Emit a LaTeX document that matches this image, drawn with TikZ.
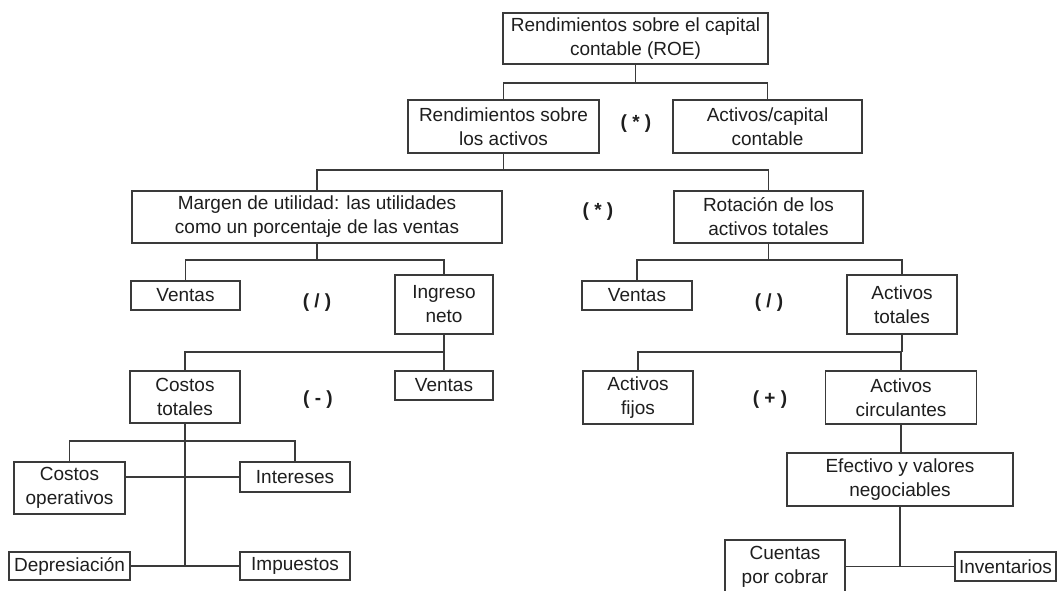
\documentclass[tikz,border=0pt]{standalone}
\usepackage{fontspec}
\setmainfont{Liberation Sans}
\definecolor{linec}{HTML}{3A3A3A}
\definecolor{textc}{HTML}{1E1E1E}
\begin{document}
\begin{tikzpicture}[x=1pt,y=-1pt,
  box/.style={draw=linec, line width=1.2pt, inner sep=0pt, align=center, text=textc,
    font=\fontsize{19}{24}\selectfont},
  op/.style={inner sep=0pt, text=textc, font=\fontsize{19}{24}\selectfont\bfseries},
  conn/.style={draw=linec, line width=1.2pt}]
\useasboundingbox (0,0) rectangle (1057,591);
\fill[white] (0,0) rectangle (1057,591);
% level 0
\node[box, minimum width=265pt, minimum height=51pt] (ROE) at (635.5,38.5) {Rendimientos sobre el capital\\contable (ROE)};
% level 1
\node[box, minimum width=191pt, minimum height=53pt] (RSA) at (503.5,126.5) {Rendimientos sobre\\los activos};
\node[box, minimum width=189pt, minimum height=53pt] (AC) at (767.5,126.5) {Activos/capital\\contable};
\node[op] (op1) at (636,124) {( * )};
% level 2
\node[box, minimum width=370pt, minimum height=52pt] (MU) at (317,217) {Margen de utilidad: las utilidades\\como un porcentaje de las ventas};
\node[box, minimum width=189pt, minimum height=52pt] (RAT) at (768.5,217) {Rotación de los\\activos totales};
\node[op] (op2) at (598,212) {( * )};
% level 3
\node[box, minimum width=109pt, minimum height=29pt] (V1) at (185.5,295.5) {Ventas};
\node[box, minimum width=98pt, minimum height=59pt] (IN) at (444,304.5) {Ingreso\\neto};
\node[op] (op3) at (317,303) {( / )};
\node[box, minimum width=110pt, minimum height=29pt] (V3) at (637,295.5) {Ventas};
\node[box, minimum width=110pt, minimum height=59pt] (AT) at (902,304.5) {Activos\\totales};
\node[op] (op4) at (769,303) {( / )};
% level 4
\node[box, minimum width=110pt, minimum height=52pt] (CT) at (185,397) {Costos\\totales};
\node[box, minimum width=98pt, minimum height=29pt] (V2) at (444,385.5) {Ventas};
\node[op] (op5) at (318,400) {( - )};
\node[box, minimum width=110pt, minimum height=53pt] (AF) at (638,397.5) {Activos\\fijos};
\node[box, minimum width=151pt, minimum height=53pt] (ACI) at (901,397.5) {Activos\\circulantes};
\node[op] (op6) at (770,400) {( + )};
% level 5 left
\node[box, minimum width=111pt, minimum height=52pt] (CO) at (69.5,488) {Costos\\operativos};
\node[box, minimum width=110pt, minimum height=30pt] (INT) at (295,477) {Intereses};
\node[box, minimum width=121pt, minimum height=28pt] (DEP) at (69.5,566) {Depresiación};
\node[box, minimum width=110pt, minimum height=28pt] (IMP) at (295,566) {Impuestos};
% level 5 right
\node[box, minimum width=226pt, minimum height=53pt] (EV) at (900,479.5) {Efectivo y valores\\negociables};
\node[box, minimum width=120pt, minimum height=53pt] (CC) at (785,566.5) {Cuentas\\por cobrar};
\node[box, minimum width=101pt, minimum height=29pt] (INV) at (1005.5,566.5) {Inventarios};
% bus levels
\coordinate (y1) at (0,83);
\coordinate (y2) at (0,170);
\coordinate (y3) at (0,260);
\coordinate (y4) at (0,352);
\coordinate (y5) at (0,441);
% connectors
\draw[conn] (ROE.south) -- (ROE.south |- y1);
\draw[conn] (RSA.north) -- (RSA.north |- y1) -- (AC.north |- y1) -- (AC.north);
\draw[conn] (RSA.south) -- (RSA.south |- y2);
\draw[conn] (MU.north) -- (MU.north |- y2) -- (RAT.north |- y2) -- (RAT.north);
\draw[conn] (MU.south) -- (MU.south |- y3);
\draw[conn] (V1.north) -- (V1.north |- y3) -- (IN.north |- y3) -- (IN.north);
\draw[conn] (RAT.south) -- (RAT.south |- y3);
\draw[conn] (V3.north) -- (V3.north |- y3) -- (AT.north |- y3) -- (AT.north);
\draw[conn] (IN.south) -- (IN.south |- y4);
\draw[conn] (CT.north) -- (CT.north |- y4) -- (V2.north |- y4) -- (V2.north);
\draw[conn] (AT.south) -- (AT.south |- y4);
\draw[conn] (AF.north) -- (AF.north |- y4) -- (ACI.north |- y4) -- (ACI.north);
\draw[conn] (ACI.south) -- (ACI.south |- EV.north);
\draw[conn] (CT.south) -- (CT.south |- DEP.east);
\draw[conn] (CO.north) -- (CO.north |- y5) -- (INT.north |- y5) -- (INT.north);
\draw[conn] (INT.west -| CO.east) -- (INT.west);
\draw[conn] (DEP.east) -- (IMP.west);
\draw[conn] (EV.south) -- (EV.south |- INV.west);
\draw[conn] (CC.east) -- (INV.west);
\end{tikzpicture}
\end{document}
